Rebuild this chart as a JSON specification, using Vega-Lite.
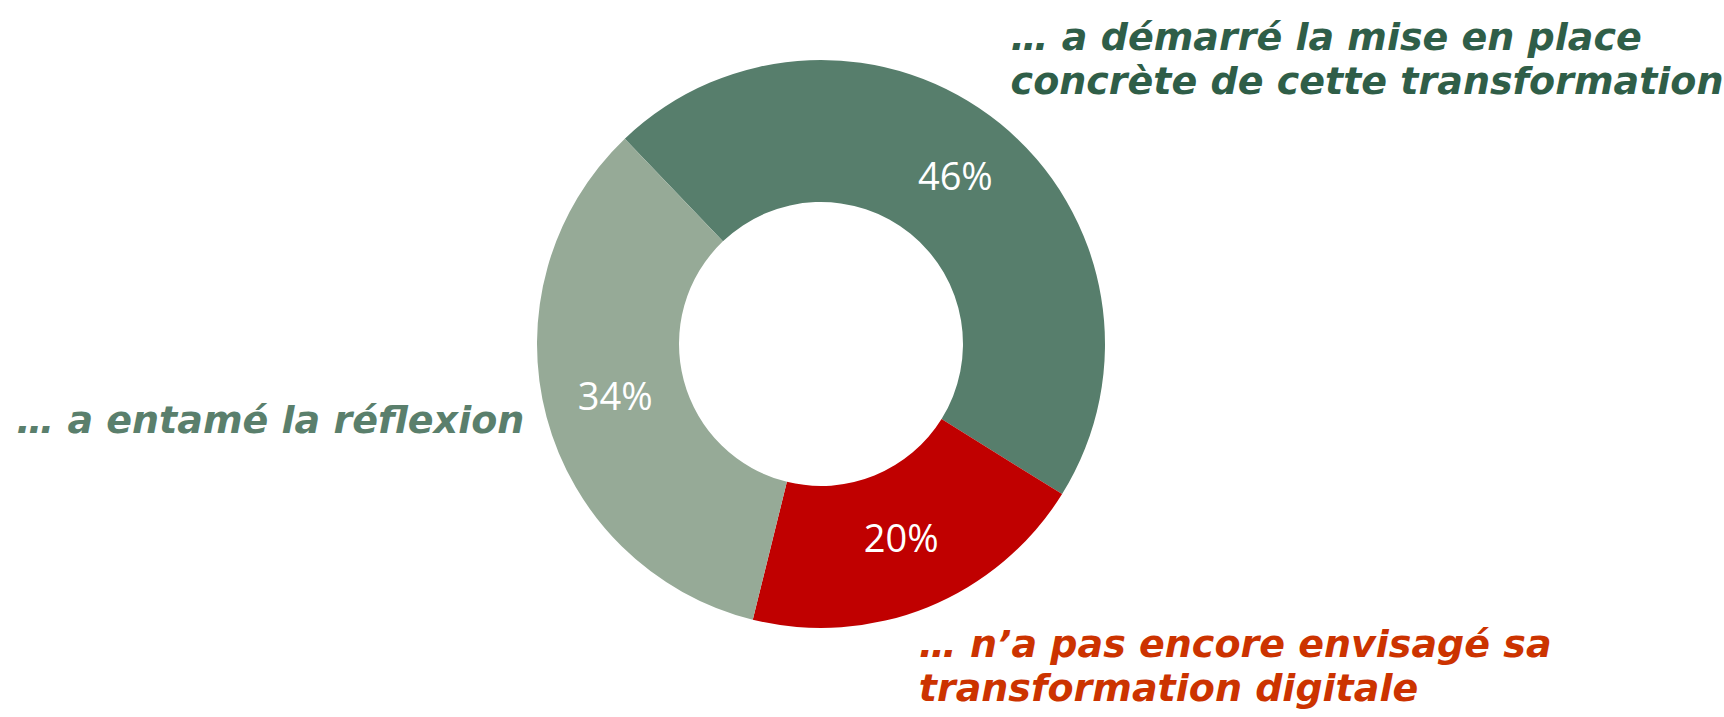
{
  "$schema": "https://vega.github.io/schema/vega-lite/v6.json",
  "width": 1642,
  "height": 688,
  "autosize": {"type": "none"},
  "padding": {"left": 0, "top": 0, "right": 82, "bottom": 29},
  "background": "white",
  "view": {"stroke": null},
  "data": {
    "values": [
      {"cle": "demarre", "ordre": 1, "valeur": 0.46, "libelle": "… a démarré la mise en place\nconcrète de cette transformation"},
      {"cle": "pas_encore", "ordre": 2, "valeur": 0.20, "libelle": "… n’a pas encore envisagé sa\ntransformation digitale"},
      {"cle": "entame", "ordre": 3, "valeur": 0.34, "libelle": "… a entamé la réflexion"}
    ]
  },
  "encoding": {
    "theta": {"field": "valeur", "type": "quantitative", "stack": true, "scale": {"domain": [0, 1], "range": [-0.7627, 5.5205]}},
    "order": {"field": "ordre", "type": "quantitative"}
  },
  "layer": [
    {
      "mark": {"type": "arc", "radius": 284, "radius2": 142, "stroke": null},
      "encoding": {
        "color": {"field": "cle", "type": "nominal", "scale": {"domain": ["demarre", "pas_encore", "entame"], "range": ["#577E6C", "#C00000", "#96AA97"]}, "legend": null}
      }
    },
    {
      "mark": {"type": "text", "radius": 213, "font": "Open Sans", "fontSize": 38, "color": "#FFFFFF", "align": "center", "baseline": "middle"},
      "encoding": {"text": {"field": "valeur", "type": "quantitative", "format": ".0%"}}
    },
    {
      "mark": {"type": "text", "radius": 307, "align": "left", "baseline": "bottom", "dx": -4, "dy": -48, "font": "DejaVu Sans", "fontStyle": "italic", "fontWeight": "bold", "fontSize": 38, "lineBreak": "\n", "lineHeight": 44, "color": "#2F5E48"},
      "encoding": {"text": {"condition": {"test": "datum.cle === 'demarre'", "field": "libelle", "type": "nominal"}, "value": ""}}
    },
    {
      "mark": {"type": "text", "radius": 307, "align": "right", "baseline": "alphabetic", "dy": 10, "font": "DejaVu Sans", "fontStyle": "italic", "fontWeight": "bold", "fontSize": 38, "lineBreak": "\n", "lineHeight": 44, "color": "#5A7F6C"},
      "encoding": {"text": {"condition": {"test": "datum.cle === 'entame'", "field": "libelle", "type": "nominal"}, "value": ""}}
    },
    {
      "mark": {"type": "text", "radius": 305, "align": "left", "baseline": "top", "dx": -17, "font": "DejaVu Sans", "fontStyle": "italic", "fontWeight": "bold", "fontSize": 38, "lineBreak": "\n", "lineHeight": 44, "color": "#CC3300"},
      "encoding": {"text": {"condition": {"test": "datum.cle === 'pas_encore'", "field": "libelle", "type": "nominal"}, "value": ""}}
    }
  ]
}
